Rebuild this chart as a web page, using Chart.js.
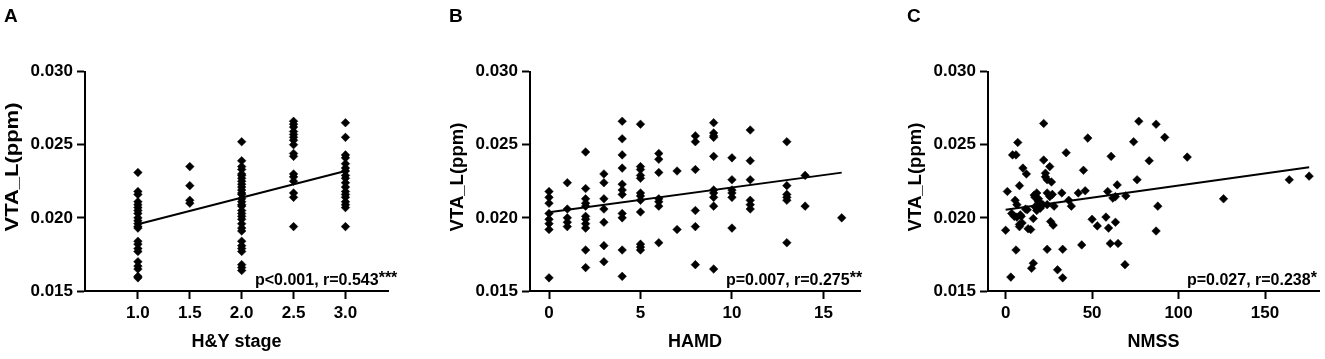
<!DOCTYPE html>
<html>
<head>
<meta charset="utf-8">
<script src="https://cdn.jsdelivr.net/npm/chart.js@4.4.1/dist/chart.umd.min.js"></script>
<style>
  body { margin: 0; background: #fff; width: 1325px; height: 359px; overflow: hidden; position: relative; }
  .panel { position: absolute; top: 0; height: 359px; }
</style>
</head>
<body>
<div class="panel" style="left:0px"><canvas id="chartA" width="445" height="359"></canvas></div>
<div class="panel" style="left:445px"><canvas id="chartB" width="458" height="359"></canvas></div>
<div class="panel" style="left:903px"><canvas id="chartC" width="422" height="359"></canvas></div>
<script>
// ---- data ----
const yTicks = [0.015, 0.020, 0.025, 0.030];

// A: H&Y stage
const stageLevels = [1.0, 1.5, 2.0, 2.5, 3.0];
const vtaByStage = [
  [0.0231, 0.0218, 0.0216, 0.0211, 0.0209, 0.0207, 0.0205, 0.0203, 0.0200, 0.0198, 0.0196,
   0.0194, 0.0193, 0.0184, 0.0182, 0.0179, 0.0177, 0.0170, 0.0167, 0.0165, 0.0160, 0.0159],
  [0.0235, 0.0222, 0.0212, 0.0210],
  [0.0252, 0.0239, 0.0235, 0.0233, 0.0230, 0.0229, 0.0227, 0.0225, 0.0223, 0.0221, 0.0219,
   0.0217, 0.0216, 0.0213, 0.0211, 0.0209, 0.0208, 0.0205, 0.0203, 0.0201, 0.0199, 0.0196,
   0.0193, 0.0191, 0.0184, 0.0181, 0.0179, 0.0177, 0.0168, 0.0166, 0.0164],
  [0.0266, 0.0264, 0.0262, 0.0259, 0.0257, 0.0255, 0.0253, 0.0250, 0.0244, 0.0242, 0.0230,
   0.0228, 0.0225, 0.0217, 0.0214, 0.0194],
  [0.0265, 0.0255, 0.0243, 0.0241, 0.0237, 0.0234, 0.0232, 0.0229, 0.0227, 0.0224, 0.0221,
   0.0218, 0.0216, 0.0214, 0.0211, 0.0209, 0.0207, 0.0194]
];
const stageTicks = [1.0, 1.5, 2.0, 2.5, 3.0];
const stageFit = [[1.0, 0.01956], [3.0, 0.0232]];

// B: HAMD
const hamdLevels = [0, 1, 2, 3, 4, 5, 6, 7, 8, 9, 10, 11, 13, 14, 16];
const vtaByHamd = [
  [0.0218, 0.0214, 0.0210, 0.0203, 0.0199, 0.0196, 0.0192, 0.0159],
  [0.0224, 0.0206, 0.0200, 0.0197, 0.0194],
  [0.0245, 0.0220, 0.0213, 0.0210, 0.0208, 0.0201, 0.0199, 0.0196, 0.0193, 0.0178, 0.0166],
  [0.0230, 0.0224, 0.0213, 0.0206, 0.0197, 0.0181, 0.0170],
  [0.0266, 0.0254, 0.0243, 0.0234, 0.0223, 0.0219, 0.0216, 0.0203, 0.0200, 0.0178, 0.0160],
  [0.0264, 0.0235, 0.0233, 0.0229, 0.0227, 0.0217, 0.0215, 0.0212, 0.0204, 0.0182, 0.0180, 0.0178],
  [0.0244, 0.0240, 0.0231, 0.0213, 0.0211, 0.0208, 0.0183],
  [0.0232, 0.0192],
  [0.0256, 0.0252, 0.0233, 0.0205, 0.0194, 0.0168],
  [0.0265, 0.0258, 0.0256, 0.0255, 0.0242, 0.0219, 0.0217, 0.0214, 0.0208, 0.0165],
  [0.0241, 0.0226, 0.0219, 0.0217, 0.0214, 0.0193],
  [0.0260, 0.0239, 0.0226, 0.0212, 0.0209, 0.0206],
  [0.0252, 0.0222, 0.0216, 0.0214, 0.0212, 0.0183],
  [0.0229, 0.0208],
  [0.0200]
];
const hamdTicks = [0, 5, 10, 15];
const hamdFit = [[0, 0.02038], [16, 0.02309]];

// C: NMSS
const nmssX = [0, 1, 3, 4, 6, 7, 3.5, 5.5, 6.5, 6, 6.5, 8, 8, 9.5, 8.5, 10, 12, 11.5, 13, 14.5,
  16, 15, 16, 17, 18, 19, 17, 20, 21.5, 16.5, 19, 22, 22, 23, 23, 24, 25.5, 26.5, 24, 25.5,
  24, 26, 27.5, 24, 28, 30, 33, 33, 32.5, 35, 36.5, 38, 42, 44, 45, 46, 47.5, 50, 53, 58,
  59, 59.5, 60.5, 61, 62, 63.5, 63.5, 64.5, 65, 69, 69.5, 74, 76, 77, 83, 87, 87, 88, 92,
  105, 126, 164, 175.5, 9, 5, 8, 18, 20, 27, 12.5];
const nmssY = [0.01915, 0.0218, 0.01595, 0.0243, 0.0243, 0.02515, 0.0203, 0.0212, 0.0209, 0.0178,
  0.02005, 0.0222, 0.01955, 0.01965, 0.0202, 0.0234, 0.0230, 0.0206, 0.01925, 0.0192,
  0.01995, 0.01655, 0.0169, 0.0214, 0.0217, 0.0211, 0.02075, 0.02065, 0.0209, 0.02155,
  0.0213, 0.02395, 0.02645, 0.02305, 0.0228, 0.0226, 0.0235, 0.02245, 0.0217, 0.02145,
  0.0209, 0.01975, 0.0195, 0.01785, 0.0208, 0.01645, 0.0159, 0.01785, 0.0217, 0.02445,
  0.0212, 0.0208, 0.0217, 0.01815, 0.02325, 0.02185, 0.02545, 0.0199, 0.01945, 0.02005,
  0.0218, 0.0193, 0.01825, 0.0242, 0.02135, 0.02145, 0.0197, 0.02225, 0.01825, 0.0168,
  0.0215, 0.0252, 0.0226, 0.0266, 0.0239, 0.0264, 0.0191, 0.0208, 0.0255, 0.02415,
  0.0213, 0.0226, 0.02285, 0.0201, 0.0201, 0.0194, 0.0205, 0.0210, 0.0216, 0.02055];
const nmssTicks = [0, 50, 100, 150];
const nmssFit = [[0, 0.02055], [175.5, 0.02345]];

// ---- drawing ----
const FONT = "'Liberation Sans', Arial, sans-serif";

function groupPoints(levels, groups) {
  const pts = [];
  levels.forEach((lv, i) => groups[i].forEach(v => pts.push({ x: lv, y: v })));
  return pts;
}

// panel letter, stats text and the y title (panel A's title is stretched in the original)
const statLabel = {
  id: 'statLabel',
  afterDraw(chart, args, opts) {
    const ctx = chart.ctx;
    ctx.save();
    ctx.fillStyle = '#000';
    ctx.textBaseline = 'alphabetic';
    ctx.textAlign = 'left';
    ctx.font = 'bold 19px ' + FONT;
    ctx.fillText(opts.letter, 4, 22);

    ctx.font = 'bold 16px ' + FONT;
    ctx.fillText(opts.text, opts.x, 285);
    const w = ctx.measureText(opts.text).width;
    ctx.fillText(opts.stars, opts.x + w, 283);

    const yt = opts.yTitle;
    ctx.font = 'bold ' + yt.size + 'px ' + FONT;
    ctx.textAlign = 'center';
    ctx.translate(13 + yt.size * 0.25, yt.cy);
    ctx.rotate(-Math.PI / 2);
    ctx.scale(yt.stretch, 1);
    ctx.fillText('VTA_L(ppm)', 0, 0);
    ctx.restore();
  }
};

function makeChart(id, p) {
  return new Chart(document.getElementById(id), {
    type: 'scatter',
    data: {
      datasets: [
        { data: p.points, pointStyle: 'rectRot', pointRadius: 4.3, pointHoverRadius: 4.3,
          backgroundColor: '#000', borderColor: '#000', borderWidth: 0.5 },
        { data: p.fit.map(d => ({ x: d[0], y: d[1] })), showLine: true, pointRadius: 0,
          borderColor: '#000', borderWidth: 2 }
      ]
    },
    options: {
      responsive: false,
      animation: false,
      clip: false,
      layout: { padding: { top: 71.5, right: p.padRight, bottom: 0, left: 0 } },
      plugins: {
        legend: { display: false },
        tooltip: { enabled: false },
        statLabel: { letter: p.letter, text: p.text, stars: p.stars, x: p.textX, yTitle: p.yTitle }
      },
      scales: {
        x: {
          type: 'linear', min: p.xMin, max: p.xMax,
          afterFit: s => { s.height = 68; },
          afterBuildTicks: s => { s.ticks = p.xTicks.map(v => ({ value: v })); },
          ticks: { callback: p.xFmt, color: '#000', padding: 4, maxRotation: 0, autoSkip: false,
                   font: { family: FONT, size: 17, weight: 'bold' } },
          grid: { display: true, drawOnChartArea: false, drawTicks: true, tickLength: 8,
                  tickWidth: 2, tickColor: '#000' },
          border: { display: true, color: '#000', width: 2 },
          title: { display: true, text: p.xTitle, color: '#000', padding: { top: 0, bottom: 6 },
                   font: { family: FONT, size: 18, weight: 'bold' } }
        },
        y: {
          type: 'linear', min: 0.015, max: 0.030,
          afterFit: s => { s.width = 85; },
          afterBuildTicks: s => { s.ticks = yTicks.map(v => ({ value: v })); },
          ticks: { callback: v => v.toFixed(3), color: '#000', padding: 4,
                   font: { family: FONT, size: 17, weight: 'bold' } },
          grid: { display: true, drawOnChartArea: false, drawTicks: true, tickLength: 8,
                  tickWidth: 2, tickColor: '#000' },
          border: { display: true, color: '#000', width: 2 },
          title: { display: false }
        }
      }
    },
    plugins: [statLabel]
  });
}

makeChart('chartA', {
  points: groupPoints(stageLevels, vtaByStage), fit: stageFit,
  xMin: 0.49, xMax: 3.41, xTicks: stageTicks, xFmt: v => v.toFixed(1), xTitle: 'H&Y stage',
  padRight: 57, letter: 'A', text: 'p<0.001, r=0.543', stars: '***', textX: 255,
  yTitle: { size: 18, stretch: 1.22, cy: 167 }
});
makeChart('chartB', {
  points: groupPoints(hamdLevels, vtaByHamd), fit: hamdFit,
  xMin: -1.04, xMax: 17, xTicks: hamdTicks, xFmt: v => String(v), xTitle: 'HAMD',
  padRight: 43, letter: 'B', text: 'p=0.007, r=0.275', stars: '**', textX: 281,
  yTitle: { size: 18, stretch: 1.03, cy: 177 }
});
makeChart('chartC', {
  points: nmssX.map((x, i) => ({ x: x, y: nmssY[i] })), fit: nmssFit,
  xMin: -10.2, xMax: 181.2, xTicks: nmssTicks, xFmt: v => String(v), xTitle: 'NMSS',
  padRight: 6, letter: 'C', text: 'p=0.027, r=0.238', stars: '*', textX: 284,
  yTitle: { size: 18, stretch: 1.03, cy: 177 }
});
</script>
</body>
</html>
